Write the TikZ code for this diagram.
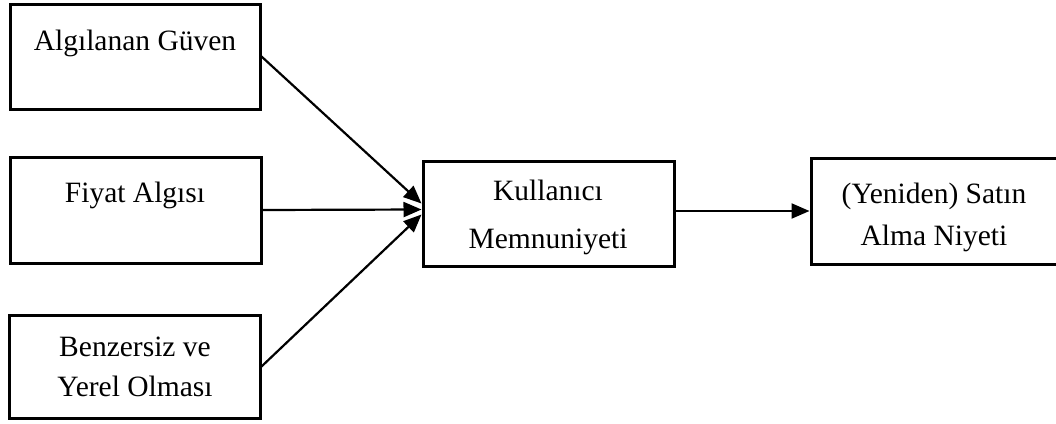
\documentclass[tikz,border=0pt]{standalone}
\usepackage{fontspec}
\setmainfont{Liberation Serif}
\usetikzlibrary{arrows.meta,calc}
\begin{document}
\begin{tikzpicture}[x=1pt,y=-1pt,
  box/.style={draw=black,line width=3pt,fill=white,inner sep=0pt},
  lbl/.style={anchor=base,inner sep=0pt,font=\fontsize{29.5}{34}\selectfont},
  conn/.style={line width=2.2pt,-{Triangle[length=18pt,width=15pt]}}]
\useasboundingbox[fill=white] (0,0) rectangle (1056,423);
% boxes
\node[box,minimum width=250pt,minimum height=105pt] (b1) at (135,56.5) {};
\node[box,minimum width=251pt,minimum height=106pt] (b2) at (135.5,210) {};
\node[box,minimum width=251pt,minimum height=103pt] (b3) at (134.5,366.5) {};
\node[box,minimum width=251pt,minimum height=105pt] (k) at (548.5,213.5) {};
\node[box,minimum width=250pt,minimum height=106pt] (s) at (936,211) {};
% texts
\node[lbl] (t1) at (135,50) {Algılanan Güven};
\node[lbl] (t2) at (135,202) {Fiyat Algısı};
\node[lbl] (t3a) at (135,356) {Benzersiz ve};
\node[lbl] (t3b) at (135,396) {Yerel Olması};
\node[lbl] (tka) at (548,200) {Kullanıcı};
\node[lbl] (tkb) at (548,248) {Memnuniyeti};
\node[lbl] (tsa) at (934,203) {(Yeniden) Satın};
\node[lbl] (tsb) at (934,245) {Alma Niyeti};
% connectors
\draw[conn] (b1.east) -- ($(k.west)+(0,-10)$);
\draw[conn] (b2.east) -- ($(k.west)+(0,-4)$);
\draw[conn] (b3.east) -- ($(k.west)+(0,1)$);
\draw[conn] (s.west -| k.east) -- (s.west);
\end{tikzpicture}
\end{document}
